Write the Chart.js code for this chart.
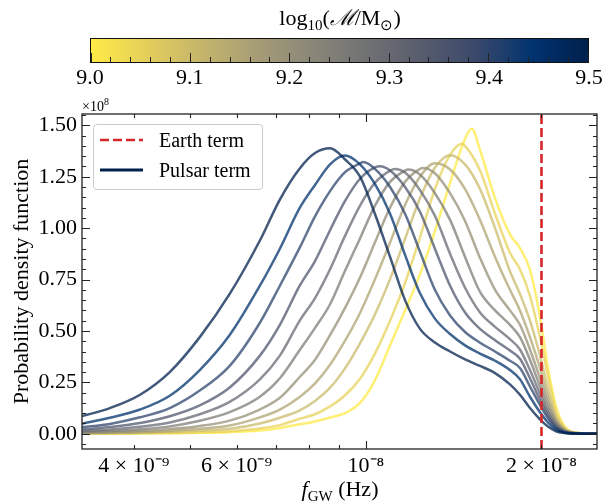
<!DOCTYPE html>
<html>
<head>
<meta charset="utf-8">
<script src="https://cdn.jsdelivr.net/npm/chart.js@4.4.1/dist/chart.umd.min.js"></script>
<style>
  html, body { margin:0; padding:0; background:#fff; }
  #wrap { position:relative; width:603px; height:501px; overflow:hidden; font-family:'Liberation Serif','Times New Roman',serif; color:#000; }
  #c { position:absolute; left:0; top:0; }
  .t { position:absolute; white-space:nowrap; line-height:26px; font-size:22px; }
  .ctr { transform:translateX(-50%); }
  .sub { font-size:15px; position:relative; top:5px; line-height:0; }
  #cbar { position:absolute; left:90px; top:38px; width:499px; height:25px; box-sizing:border-box; border:1px solid #111; }
  .tk { position:absolute; bottom:0; width:1px; background:#222; }
  #legend { position:absolute; left:93px; top:124px; width:170px; height:66px; box-sizing:border-box; border:1px solid #cccccc; border-radius:4px; background:rgba(255,255,255,0.8); }
</style>
</head>
<body>
<div id="wrap">
  <canvas id="c" width="603" height="501" style="width:603px;height:501px;"></canvas>
  <div class="t ctr" style="left:340px;top:5px;">log<span class="sub">10</span>(<i>ℳ</i>/M<span class="sub">⊙</span>)</div>
  <div id="cbar"></div>
  <div id="cbLabels"></div>
  <div class="t" style="left:82px;top:94px;font-size:14px;line-height:16px;">×10<sup style="font-size:10px;">8</sup></div>
  <div id="legend">
    <svg width="60" height="64" style="position:absolute;left:0;top:0;">
      <line x1="6" y1="15" x2="49" y2="15" stroke="#d62728" stroke-width="2.6" stroke-dasharray="9,4"/>
      <line x1="6" y1="45" x2="49" y2="45" stroke="#00204C" stroke-width="2.8"/>
    </svg>
    <div class="t" style="left:65px;top:2px;font-size:20px;">Earth term</div>
    <div class="t" style="left:65px;top:32px;font-size:20px;">Pulsar term</div>
  </div>
  <div class="t ctr" style="left:340px;top:476px;"><i>f</i><span class="sub">GW</span> (Hz)</div>
</div>
<script>
// ---------------- data ----------------
const massLog = [9.00, 9.05, 9.10, 9.15, 9.20, 9.25, 9.30, 9.35, 9.40, 9.45, 9.50];
const freqHz = [3.26e-9, 3.64e-9, 4.10e-9, 4.61e-9, 5.19e-9, 5.84e-9, 6.58e-9, 7.12e-9, 7.70e-9, 8.18e-9,
                8.68e-9, 9.20e-9, 9.77e-9, 1.036e-8, 1.100e-8, 1.167e-8, 1.238e-8, 1.313e-8, 1.394e-8, 1.479e-8,
                1.569e-8, 1.665e-8, 1.766e-8, 1.837e-8, 1.911e-8, 1.988e-8, 2.052e-8, 2.118e-8, 2.186e-8, 2.283e-8, 2.49e-8];
// probability density (units of 1e8)
const pdf_900 = [.0005,.001,.0015,.003,.005,.008,.016,.028,.046,.06,.079,.10,.15,.26,.43,.60,.775,.985,1.22,1.435,1.38,1.145,.97,.903,.797,.57,.32,.133,.04,.005,0];
const pdf_905 = [.001,.0015,.0025,.004,.0065,.012,.026,.042,.073,.095,.133,.186,.268,.39,.55,.733,.955,1.19,1.356,1.40,1.28,1.07,.88,.80,.67,.47,.28,.11,.033,.006,0];
const pdf_910 = [.002,.003,.005,.009,.015,.024,.05,.078,.114,.16,.224,.317,.44,.58,.752,.948,1.145,1.294,1.355,1.31,1.19,1.0,.79,.68,.55,.38,.22,.085,.026,.005,0];
const pdf_915 = [.003,.005,.008,.014,.024,.04,.08,.118,.179,.245,.336,.45,.587,.75,.93,1.113,1.25,1.315,1.285,1.19,1.04,.86,.70,.60,.47,.32,.18,.07,.022,.004,0];
const pdf_920 = [.005,.008,.013,.023,.038,.064,.118,.175,.276,.36,.48,.61,.76,.93,1.10,1.225,1.288,1.267,1.17,1.035,.855,.70,.60,.53,.41,.27,.15,.06,.018,.003,0];
const pdf_925 = [.008,.013,.022,.036,.063,.105,.18,.27,.407,.515,.63,.79,.95,1.108,1.225,1.28,1.26,1.17,1.04,.86,.69,.60,.53,.47,.36,.23,.125,.05,.015,.003,0];
const pdf_930 = [.013,.021,.034,.055,.095,.155,.265,.38,.55,.66,.80,.96,1.11,1.22,1.28,1.27,1.185,1.06,.875,.71,.59,.52,.46,.41,.31,.195,.105,.042,.012,.002,0];
const pdf_935 = [.021,.033,.052,.085,.138,.225,.38,.53,.72,.84,.99,1.13,1.24,1.295,1.28,1.20,1.08,.90,.72,.59,.51,.455,.405,.365,.27,.165,.09,.035,.01,.002,0];
const pdf_940 = [.032,.048,.08,.125,.21,.33,.54,.72,.905,1.057,1.18,1.271,1.315,1.288,1.20,1.07,.885,.70,.575,.495,.443,.40,.355,.32,.23,.14,.075,.028,.008,.0015,0];
const pdf_945 = [.049,.078,.118,.185,.31,.48,.72,.90,1.098,1.21,1.31,1.353,1.31,1.215,1.07,.87,.683,.56,.485,.43,.39,.355,.31,.265,.18,.105,.055,.02,.006,.001,0];
const pdf_950 = [.086,.125,.19,.30,.47,.68,.94,1.139,1.29,1.365,1.388,1.335,1.25,1.07,.86,.65,.51,.444,.40,.362,.33,.295,.24,.19,.125,.07,.035,.012,.004,.001,0];
const pdfCurves = [pdf_900, pdf_905, pdf_910, pdf_915, pdf_920, pdf_925, pdf_930, pdf_935, pdf_940, pdf_945, pdf_950];
const peakFreqHz = [1.518e-8, 1.460e-8, 1.394e-8, 1.322e-8, 1.254e-8, 1.182e-8, 1.121e-8, 1.057e-8, 9.89e-9, 9.20e-9, 8.65e-9];
const peakPdf = [1.483, 1.41, 1.355, 1.318, 1.293, 1.285, 1.288, 1.301, 1.321, 1.353, 1.39];
const earthTermHz = 2.0e-8;
const xTickValues = [4e-9, 6e-9, 1e-8, 2e-8];
const xTickLabels = ['4 × 10⁻⁹', '6 × 10⁻⁹', '10⁻⁸', '2 × 10⁻⁸'];
const xMinorValues = [4e-9, 5e-9, 6e-9, 7e-9, 8e-9, 9e-9, 2e-8];
const xMajorValues = [1e-8];
const yTickValues = [0, 0.25, 0.5, 0.75, 1.0, 1.25, 1.5];
const cbarTickValues = [9.0, 9.1, 9.2, 9.3, 9.4, 9.5];
const xMin = 3.26e-9, xMax = 2.49e-8, yMin = -0.074, yMax = 1.555;
const cbarMin = 9.0, cbarMax = 9.5;

// ---------------- styling ----------------
const FONT = "'Liberation Serif','Times New Roman',serif";
const cividisStops = ['#00204C','#00336F','#39486B','#575C6D','#707173','#8A8779','#A69D75','#C4B56C','#E4CF5B','#FFEA46'];
function hexRgb(h){ return [1,3,5].map(i => parseInt(h.substr(i,2),16)); }
function cividis(t){
  const n = cividisStops.length - 1;
  const p = Math.min(n, Math.max(0, t * n));
  const i = Math.min(n - 1, Math.floor(p)), f = p - i;
  const a = hexRgb(cividisStops[i]), b = hexRgb(cividisStops[i+1]);
  return a.map((c,k) => Math.round(c + (b[k]-c)*f));
}
function massColor(m, alpha){
  const c = cividis(1 - (m - cbarMin)/(cbarMax - cbarMin));
  return `rgba(${c[0]},${c[1]},${c[2]},${alpha})`;
}

// colorbar (HTML)
(function(){
  const bar = document.getElementById('cbar');
  const stops = cividisStops.slice().reverse().join(',');
  bar.style.background = `linear-gradient(to right, ${stops})`;
  const W = 497;
  for (let j = 0; j <= 25; j++) {
    const v = 9.0 + j*0.02;
    const major = (j % 5 === 0);
    const d = document.createElement('div');
    d.className = 'tk';
    d.style.left = (W * (v - cbarMin)/(cbarMax - cbarMin) - 0.5) + 'px';
    d.style.height = (major ? 9 : 5) + 'px';
    bar.appendChild(d);
  }
  const lab = document.getElementById('cbLabels');
  cbarTickValues.forEach(v => {
    const s = document.createElement('div');
    s.className = 't ctr';
    s.style.left = (90 + 499*(v - cbarMin)/(cbarMax - cbarMin)) + 'px';
    s.style.top = '64px';
    s.textContent = v.toFixed(1);
    lab.appendChild(s);
  });
})();

// datasets
function buildPoints(k){
  const pf = peakFreqHz[k];
  const close = freqHz.some(f => Math.abs(Math.log10(f/pf)) < 0.005);
  const pts = [];
  let done = close;
  freqHz.forEach((f, i) => {
    if (!done && f > pf) { pts.push({x: pf, y: peakPdf[k]}); done = true; }
    pts.push({x: f, y: pdfCurves[k][i]});
  });
  return pts;
}
const datasets = [{
  label: 'Earth term',
  data: [{x: earthTermHz, y: yMin}, {x: earthTermHz, y: yMax}],
  borderColor: '#d62728', borderWidth: 2.6, borderDash: [9, 4], pointRadius: 0, tension: 0
}];
for (let k = massLog.length - 1; k >= 0; k--) {
  datasets.push({
    label: 'log M ' + massLog[k].toFixed(2),
    data: buildPoints(k),
    borderColor: massColor(massLog[k], 0.75),
    borderWidth: 2.5, pointRadius: 0, fill: false,
    cubicInterpolationMode: 'monotone'
  });
}

const frameTicks = {
  id: 'frameTicks',
  afterDatasetsDraw(chart) {
    const {ctx, chartArea: a, scales: {x, y}} = chart;
    ctx.save();
    ctx.strokeStyle = '#222';
    ctx.lineWidth = 1.3;
    ctx.strokeRect(a.left, a.top, a.right - a.left, a.bottom - a.top);
    ctx.lineWidth = 1.1;
    ctx.beginPath();
    const xt = (vals, len) => vals.forEach(v => {
      const p = Math.round(x.getPixelForValue(v)) + 0.5;
      ctx.moveTo(p, a.bottom); ctx.lineTo(p, a.bottom - len);
      ctx.moveTo(p, a.top); ctx.lineTo(p, a.top + len);
    });
    const yt = (vals, len) => vals.forEach(v => {
      const p = Math.round(y.getPixelForValue(v)) + 0.5;
      ctx.moveTo(a.left, p); ctx.lineTo(a.left + len, p);
      ctx.moveTo(a.right, p); ctx.lineTo(a.right - len, p);
    });
    xt(xMajorValues, 8); xt(xMinorValues, 4);
    yt(yTickValues, 8);
    const yMinor = [];
    for (let v = -0.05; v <= yMax; v += 0.05) {
      const r = Math.round(v*100)/100;
      if (Math.abs(r/0.25 - Math.round(r/0.25)) > 1e-6 && r >= yMin) yMinor.push(r);
    }
    yt(yMinor, 4);
    ctx.stroke();
    ctx.restore();
  }
};

new Chart(document.getElementById('c'), {
  type: 'line',
  data: { datasets },
  options: {
    responsive: false, animation: false, devicePixelRatio: 1,
    layout: { padding: { top: 114, right: 6, bottom: 0, left: 0 } },
    plugins: { legend: { display: false }, tooltip: { enabled: false } },
    elements: { point: { radius: 0 } },
    scales: {
      x: {
        type: 'logarithmic', min: xMin, max: xMax,
        grid: { display: false, drawTicks: false }, border: { display: false },
        afterBuildTicks: s => { s.ticks = xTickValues.map(v => ({ value: v })); },
        afterFit: s => { s.height = 52; },
        ticks: {
          autoSkip: false, maxRotation: 0, minRotation: 0, padding: 4, color: '#000',
          font: { family: FONT, size: 22 },
          callback: (v) => {
            const i = xTickValues.findIndex(t => Math.abs(t - v)/t < 1e-6);
            return i >= 0 ? xTickLabels[i] : '';
          }
        }
      },
      y: {
        type: 'linear', min: yMin, max: yMax,
        grid: { display: false, drawTicks: false }, border: { display: false },
        afterBuildTicks: s => { s.ticks = yTickValues.map(v => ({ value: v })); },
        afterFit: s => { s.width = 82; },
        ticks: { padding: 5, color: '#000', font: { family: FONT, size: 22 }, callback: v => Number(v).toFixed(2) },
        title: { display: true, text: 'Probability density function', color: '#000',
                 font: { family: FONT, size: 22 }, padding: { top: 9, bottom: 0 } }
      }
    }
  },
  plugins: [frameTicks]
});
</script>
</body>
</html>
